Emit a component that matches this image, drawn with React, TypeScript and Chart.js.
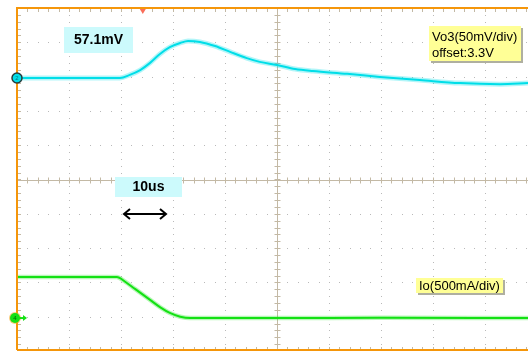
import React, { useEffect, useRef } from "react";
import { Chart, registerables } from "chart.js";

Chart.register(...registerables);

// Time axis: microseconds (10 us / division); vertical axis: screen divisions (-5..5)
const timeMin = 0;
const timeMax = 98.3;
const timePerDiv = 10;
const levelMin = -5;
const levelMax = 5;

// Vo3 trace (CH2, 50 mV/div, offset 3.3 V), in divisions
const vo3Time = [0, 19.8, 21.7, 23.7, 25.6, 27.5, 29.4, 31.4, 32.9, 35.2, 38.1, 41.0, 44.2, 46.7, 50.0, 53.5, 56.9, 63.5, 69.8, 77.5, 85.2, 92.9, 98.3];
const vo3Level = [2.96, 2.96, 3.05, 3.19, 3.40, 3.66, 3.86, 3.98, 4.04, 4.01, 3.89, 3.72, 3.54, 3.43, 3.34, 3.22, 3.16, 3.08, 2.99, 2.90, 2.81, 2.78, 2.81];

// Io trace (CH4, 500 mA/div), in divisions
const ioTime = [0, 19.2, 20.8, 22.7, 25.6, 27.5, 29.4, 31.4, 33.3, 50.0, 70.0, 98.3];
const ioLevel = [-2.84, -2.84, -2.98, -3.19, -3.51, -3.72, -3.89, -4.0, -4.04, -4.04, -4.03, -4.04];

const peakLabel = "57.1mV";
const timeLabel = "10us";
const vo3Lines = ["Vo3(50mV/div)", "offset:3.3V"];
const ioText = "Io(500mA/div)";

const CYAN = "rgb(0, 222, 232)";
const GREEN = "rgb(20, 225, 20)";
const ORANGE = "rgb(245, 150, 10)";
const TAN = "rgb(195, 185, 165)";
const DOT = "rgb(185, 185, 185)";
const FONT = "'Liberation Sans', Arial, sans-serif";

function toPoints(xs: number[], ys: number[]) {
  return xs.map((x, i) => ({ x, y: ys[i] }));
}

const scopePlugin = {
  id: "scopeGrid",
  beforeDatasetsDraw(chart: any) {
    const { ctx, chartArea: a, scales } = chart;
    const x = scales.x;
    const y = scales.y;
    ctx.save();
    // dotted grid
    ctx.fillStyle = DOT;
    for (let d = timePerDiv; d < timeMax; d += timePerDiv) {
      if (d === 50) continue;
      const px = Math.round(x.getPixelForValue(d));
      for (let v = levelMin + 0.2; v < levelMax - 0.01; v += 0.2) {
        const py = Math.round(y.getPixelForValue(v));
        ctx.fillRect(px, py, 1, 1);
      }
    }
    for (let v = levelMin + 1; v < levelMax; v += 1) {
      if (v === 0) continue;
      const py = Math.round(y.getPixelForValue(v));
      for (let t = 2; t < timeMax; t += 2) {
        const px = Math.round(x.getPixelForValue(t));
        ctx.fillRect(px, py, 1, 1);
      }
    }
    // center cross
    ctx.strokeStyle = TAN;
    ctx.lineWidth = 1;
    const cx = Math.round(x.getPixelForValue(50)) + 0.5;
    const cy = Math.round(y.getPixelForValue(0)) + 0.5;
    ctx.beginPath();
    ctx.moveTo(cx, a.top);
    ctx.lineTo(cx, a.bottom);
    ctx.moveTo(a.left, cy);
    ctx.lineTo(a.right, cy);
    for (let v = levelMin + 0.2; v < levelMax; v += 0.2) {
      const py = Math.round(y.getPixelForValue(v)) + 0.5;
      ctx.moveTo(cx - 3, py);
      ctx.lineTo(cx + 3, py);
      ctx.moveTo(a.left, py);
      ctx.lineTo(a.left + 4, py);
    }
    for (let t = 2; t < timeMax; t += 2) {
      const px = Math.round(x.getPixelForValue(t)) + 0.5;
      ctx.moveTo(px, cy - 3);
      ctx.lineTo(px, cy + 3);
      ctx.moveTo(px, a.top);
      ctx.lineTo(px, a.top + 4);
      ctx.moveTo(px, a.bottom);
      ctx.lineTo(px, a.bottom - 4);
    }
    ctx.stroke();
    ctx.restore();
  },
  afterDraw(chart: any) {
    const { ctx, chartArea: a, scales } = chart;
    const x = scales.x;
    const y = scales.y;
    ctx.save();
    // orange frame
    ctx.strokeStyle = ORANGE;
    ctx.lineWidth = 2;
    ctx.beginPath();
    ctx.moveTo(a.left, a.bottom - 1);
    ctx.lineTo(a.left, a.top);
    ctx.lineTo(a.right + 2, a.top);
    ctx.moveTo(a.left, a.bottom - 1);
    ctx.lineTo(a.right + 2, a.bottom - 1);
    ctx.stroke();

    // trigger marker
    const tx = x.getPixelForValue(24.2);
    ctx.fillStyle = "rgb(250, 110, 90)";
    ctx.beginPath();
    ctx.moveTo(tx - 3, a.top + 1);
    ctx.lineTo(tx + 3, a.top + 1);
    ctx.lineTo(tx, a.top + 6);
    ctx.closePath();
    ctx.fill();

    // CH2 marker
    const m2y = y.getPixelForValue(vo3Level[0]);
    ctx.beginPath();
    ctx.arc(a.left, m2y, 5, 0, Math.PI * 2);
    ctx.fillStyle = CYAN;
    ctx.fill();
    ctx.lineWidth = 1.5;
    ctx.strokeStyle = "rgb(40, 60, 60)";
    ctx.stroke();
    ctx.fillStyle = "rgb(0, 120, 130)";
    ctx.font = `6px ${FONT}`;
    ctx.textAlign = "center";
    ctx.textBaseline = "middle";
    ctx.fillText("2", a.left, m2y);

    // CH4 marker
    const m4y = y.getPixelForValue(ioLevel[ioLevel.length - 1]);
    ctx.beginPath();
    ctx.arc(a.left - 2, m4y, 6, 0, Math.PI * 2);
    ctx.fillStyle = "rgba(245, 170, 40, 0.6)";
    ctx.fill();
    ctx.beginPath();
    ctx.arc(a.left - 2, m4y, 5, 0, Math.PI * 2);
    ctx.fillStyle = GREEN;
    ctx.fill();
    ctx.fillRect(a.left, m4y - 1, 8, 2);
    ctx.beginPath();
    ctx.moveTo(a.left + 10, m4y);
    ctx.lineTo(a.left + 6, m4y - 3);
    ctx.lineTo(a.left + 6, m4y + 3);
    ctx.closePath();
    ctx.fill();
    ctx.fillStyle = "rgb(0, 110, 0)";
    ctx.font = `6px ${FONT}`;
    ctx.fillText("4", a.left - 2, m4y);

    // 57.1mV label
    ctx.fillStyle = "rgb(204, 250, 252)";
    ctx.fillRect(64, 27, 69, 26);
    ctx.fillStyle = "#000";
    ctx.font = `bold 14px ${FONT}`;
    ctx.fillText(peakLabel, 98.5, 40.5);

    // 10us label
    ctx.fillStyle = "rgb(204, 250, 252)";
    ctx.fillRect(115, 177, 67, 20);
    ctx.fillStyle = "#000";
    ctx.fillText(timeLabel, 148.5, 187.5);

    // double arrow
    ctx.strokeStyle = "#000";
    ctx.lineWidth = 2;
    ctx.beginPath();
    ctx.moveTo(124, 214);
    ctx.lineTo(166, 214);
    ctx.moveTo(130, 209);
    ctx.lineTo(124, 214);
    ctx.lineTo(130, 219);
    ctx.moveTo(160, 209);
    ctx.lineTo(166, 214);
    ctx.lineTo(160, 219);
    ctx.stroke();

    // Vo3 box
    ctx.fillStyle = "rgb(175, 175, 160)";
    ctx.fillRect(431, 28, 92, 35);
    ctx.fillStyle = "rgb(255, 255, 150)";
    ctx.fillRect(429, 26, 92, 35);
    ctx.fillStyle = "#000";
    ctx.font = `13px ${FONT}`;
    ctx.textAlign = "left";
    ctx.textBaseline = "alphabetic";
    ctx.fillText(vo3Lines[0], 432, 41);
    ctx.fillText(vo3Lines[1], 432, 57);

    // Io box
    ctx.fillStyle = "rgb(175, 175, 160)";
    ctx.fillRect(418, 280, 87, 15);
    ctx.fillStyle = "rgb(255, 255, 150)";
    ctx.fillRect(416, 278, 87, 15);
    ctx.fillStyle = "#000";
    ctx.fillText(ioText, 419, 290);
    ctx.restore();
  },
};

export default function App() {
  const ref = useRef<HTMLCanvasElement | null>(null);
  useEffect(() => {
    if (!ref.current) return;
    const chart = new Chart(ref.current, {
      type: "line",
      data: {
        datasets: [
          {
            data: toPoints(vo3Time, vo3Level),
            borderColor: "rgba(0, 222, 232, 0.3)",
            borderWidth: 5,
            pointRadius: 0,
            cubicInterpolationMode: "monotone",
          },
          {
            data: toPoints(vo3Time, vo3Level),
            borderColor: CYAN,
            borderWidth: 2,
            pointRadius: 0,
            cubicInterpolationMode: "monotone",
          },
          {
            data: toPoints(ioTime, ioLevel),
            borderColor: "rgba(20, 225, 20, 0.3)",
            borderWidth: 4.5,
            pointRadius: 0,
            cubicInterpolationMode: "monotone",
          },
          {
            data: toPoints(ioTime, ioLevel),
            borderColor: GREEN,
            borderWidth: 2,
            pointRadius: 0,
            cubicInterpolationMode: "monotone",
          },
        ],
      },
      options: {
        animation: false,
        responsive: false,
        layout: { padding: { left: 17, top: 8, right: 0, bottom: 1 } },
        plugins: { legend: { display: false }, tooltip: { enabled: false } },
        scales: {
          x: { type: "linear", min: timeMin, max: timeMax, display: false },
          y: { type: "linear", min: levelMin, max: levelMax, display: false },
        },
      },
      plugins: [scopePlugin],
    });
    return () => chart.destroy();
  }, []);
  return (
    <div style={{ position: "fixed", left: 0, top: 0, width: 528, height: 352, background: "#fff" }}>
      <canvas ref={ref} width={528} height={352} style={{ display: "block" }} />
    </div>
  );
}
